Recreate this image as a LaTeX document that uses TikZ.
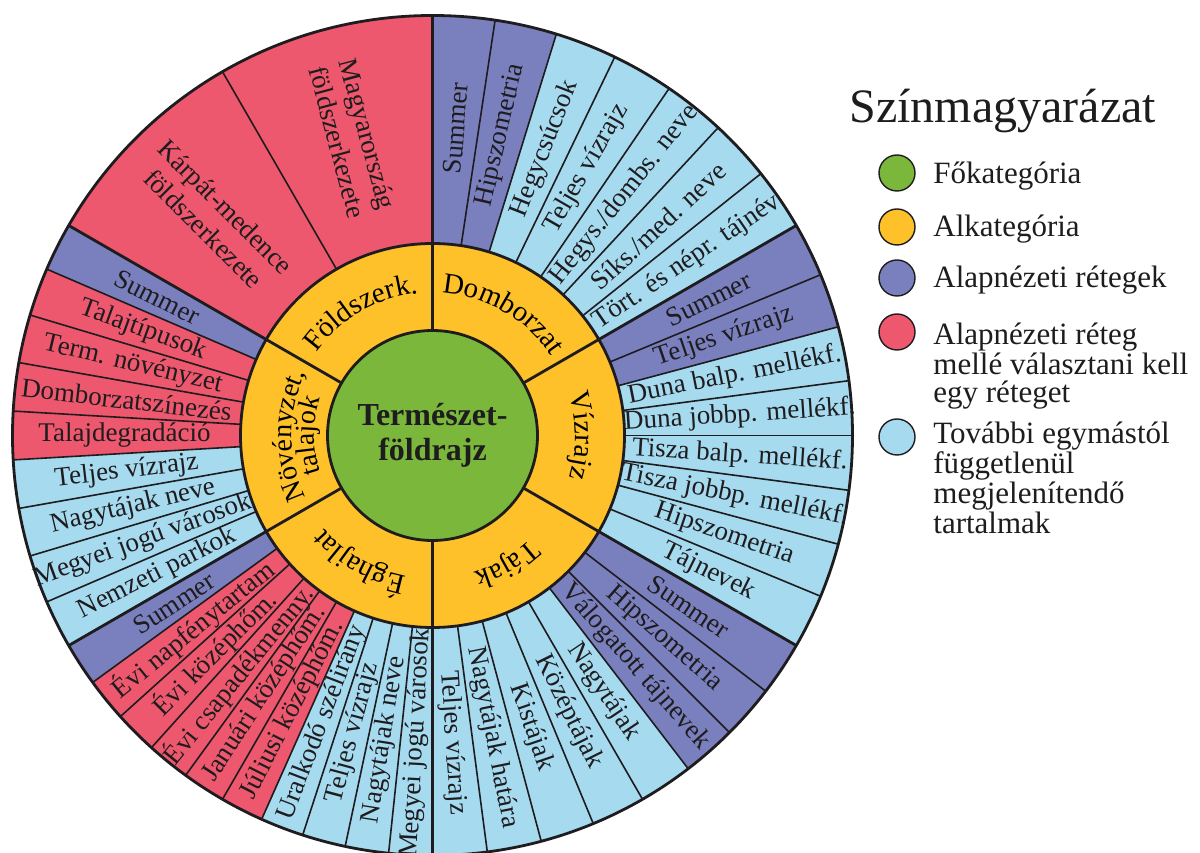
\documentclass[tikz,border=0pt]{standalone}
\usepackage{fontspec}
\setmainfont{Liberation Serif}
\usetikzlibrary{decorations.text}
\pgfdeclarelayer{bg}
\pgfsetlayers{bg,main}
\definecolor{cgreen}{RGB}{122,183,59}
\definecolor{cyellow}{RGB}{254,193,42}
\definecolor{cdark}{RGB}{122,128,190}
\definecolor{cred}{RGB}{237,88,110}
\definecolor{clight}{RGB}{166,218,239}
\definecolor{ink}{RGB}{30,28,30}
\newcommand\ylabfont{\fontsize{14.5}{16}\selectfont}
\newcommand\ylabfontb{\fontsize{14}{16}\selectfont}
\newcommand\leaf[5]{%
  \pgfmathsetmacro\la{#1-#3*#2}%
  \pgfmathsetmacro\lb{#1-(#3+1)*#2}%
  \pgfmathsetmacro\lm{(\la+\lb)/2}%
  \pgfmathsetmacro\lr{\lm>90 ? \lm-180 : \lm}%
  \begin{pgfonlayer}{bg}
  \fill[#4] ([shift={(\la:192)}]C) -- ([shift={(\la:420)}]C) arc[start angle=\la, end angle=\lb, radius=420] -- ([shift={(\lb:192)}]C) arc[start angle=\lb, end angle=\la, radius=192] -- cycle;
  \end{pgfonlayer}
  \draw[leafline] ([shift={(\lb:192)}]C) -- ([shift={(\lb:420)}]C);
  \node[leaftext, rotate=\lr] at ([shift={(\lm:308)}]C) {#5};
}
\newcommand\ylab[5]{%
  \path[decorate, decoration={text along path, text align=center, text={|#5|#4}}]
    ([shift={(#1:#3)}]C) arc[start angle=#1, end angle=#2, radius=#3];
}
\begin{document}
\begin{tikzpicture}[x=0.5pt,y=0.5pt,
  leafline/.style={draw=ink, line width=0.8pt},
  groupline/.style={draw=ink, line width=1.4pt},
  ringline/.style={draw=ink, line width=1.4pt},
  leaftext/.style={font=\fontsize{13.5}{15.5}\selectfont, text=ink, align=center, inner sep=0pt},
  centertext/.style={font=\bfseries\fontsize{16}{17.5}\selectfont, text=ink, align=center, inner sep=0pt},
  legcirc/.style={circle, draw=ink, line width=0.7pt, minimum size=18pt, inner sep=0pt},
  legtext/.style={font=\fontsize{15.5}{14}\selectfont, text=ink, align=left, anchor=base west, inner sep=0pt},
]
\useasboundingbox (0,0) rectangle (1200,852);
\clip (0,0) rectangle (1200,852);
\coordinate (C) at (432.5,416.5);
\begin{pgfonlayer}{bg}
\fill[white] (0,0) rectangle (1200,852);
\fill[cyellow] (C) circle (192);
\end{pgfonlayer}
% Domborzat
\leaf{90}{60/7}{0}{cdark}{Summer}
\leaf{90}{60/7}{1}{cdark}{Hipszometria}
\leaf{90}{60/7}{2}{clight}{Hegycsúcsok}
\leaf{90}{60/7}{3}{clight}{Teljes vízrajz}
\leaf{90}{60/7}{4}{clight}{Hegys./dombs. neve}
\leaf{90}{60/7}{5}{clight}{Síks./med. neve}
\leaf{90}{60/7}{6}{clight}{Tört. és népr. tájnév}
% Vizrajz
\leaf{30}{7.5}{0}{cdark}{Summer}
\leaf{30}{7.5}{1}{cdark}{Teljes vízrajz}
\leaf{30}{7.5}{2}{clight}{Duna balp. mellékf.}
\leaf{30}{7.5}{3}{clight}{Duna jobbp. mellékf.}
\leaf{30}{7.5}{4}{clight}{Tisza balp. mellékf.}
\leaf{30}{7.5}{5}{clight}{Tisza jobbp. mellékf.}
\leaf{30}{7.5}{6}{clight}{Hipszometria}
\leaf{30}{7.5}{7}{clight}{Tájnevek}
% Tajak
\leaf{-30}{7.5}{0}{cdark}{Summer}
\leaf{-30}{7.5}{1}{cdark}{Hipszometria}
\leaf{-30}{7.5}{2}{cdark}{Válogatott tájnevek}
\leaf{-30}{7.5}{3}{clight}{Nagytájak}
\leaf{-30}{7.5}{4}{clight}{Középtájak}
\leaf{-30}{7.5}{5}{clight}{Kistájak}
\leaf{-30}{7.5}{6}{clight}{Nagytájak határa}
\leaf{-30}{7.5}{7}{clight}{Teljes vízrajz}
% Eghajlat
\leaf{270}{6}{0}{clight}{Megyei jogú városok}
\leaf{270}{6}{1}{clight}{Nagytájak neve}
\leaf{270}{6}{2}{clight}{Teljes vízrajz}
\leaf{270}{6}{3}{clight}{Uralkodó szélirány}
\leaf{270}{6}{4}{cred}{Júliusi középhőm.}
\leaf{270}{6}{5}{cred}{Januári középhőm.}
\leaf{270}{6}{6}{cred}{Évi csapadékmenny.}
\leaf{270}{6}{7}{cred}{Évi középhőm.}
\leaf{270}{6}{8}{cred}{Évi napfénytartam}
\leaf{270}{6}{9}{cdark}{Summer}
% Novenyzet
\leaf{210}{60/9}{0}{clight}{Nemzeti parkok}
\leaf{210}{60/9}{1}{clight}{Megyei jogú városok}
\leaf{210}{60/9}{2}{clight}{Nagytájak neve}
\leaf{210}{60/9}{3}{clight}{Teljes vízrajz}
\leaf{210}{60/9}{4}{cred}{Talajdegradáció}
\leaf{210}{60/9}{5}{cred}{Domborzatszínezés}
\leaf{210}{60/9}{6}{cred}{Term. növényzet}
\leaf{210}{60/9}{7}{cred}{Talajtípusok}
\leaf{210}{60/9}{8}{cdark}{Summer}
% Foldszerk
\leaf{150}{30}{0}{cred}{Kárpát-medence\\földszerkezete}
\leaf{150}{30}{1}{cred}{Magyarország\\földszerkezete}
% group lines
\foreach \g in {90,30,-30,-90,-150,150}
  \draw[groupline] ([shift={(\g:105)}]C) -- ([shift={(\g:420)}]C);
\draw[ringline] (C) circle (192);
\filldraw[fill=cgreen, ringline] (C) circle (105);
\draw[ringline] (C) circle (420);
% yellow labels
\ylab{90}{30}{143}{Domborzat}{\ylabfont}
\ylab{30}{-30}{143}{Vízrajz}{\ylabfont}
\ylab{-30}{-90}{143}{Tájak}{\ylabfont}
\ylab{-90}{-150}{143}{Éghajlat}{\ylabfont}
\ylab{210}{150}{141}{Növényzet,}{\ylabfontb}
\ylab{210}{150}{118}{talajok}{\ylabfontb}
\ylab{150}{90}{143}{Földszerk.}{\ylabfont}
\node[centertext] (main) at (C) {Természet-\\földrajz};
% legend
\node[anchor=base west, inner sep=0pt, text=ink, font=\fontsize{24}{28}\selectfont] (title) at (849,729) {Színmagyarázat};
\node[legcirc, fill=cgreen] (k1) at (897,679) {};
\node[legcirc, fill=cyellow] (k2) at (897,625) {};
\node[legcirc, fill=cdark] (k3) at (897,574) {};
\node[legcirc, fill=cred] (k4) at (897,520) {};
\node[legcirc, fill=clight] (k5) at (897,415) {};
\node[legtext] (t1) at (933,668) {Főkategória};
\node[legtext] (t2) at (933,615) {Alkategória};
\node[legtext] (t3) at (933,564) {Alapnézeti rétegek};
\node[legtext] (t4) at (933,449) {Alapnézeti réteg\\mellé választani kell\\egy réteget};
\node[legtext] (t5) at (933,318) {További egymástól\\függetlenül\\megjelenítendő\\tartalmak};
\end{tikzpicture}
\end{document}
